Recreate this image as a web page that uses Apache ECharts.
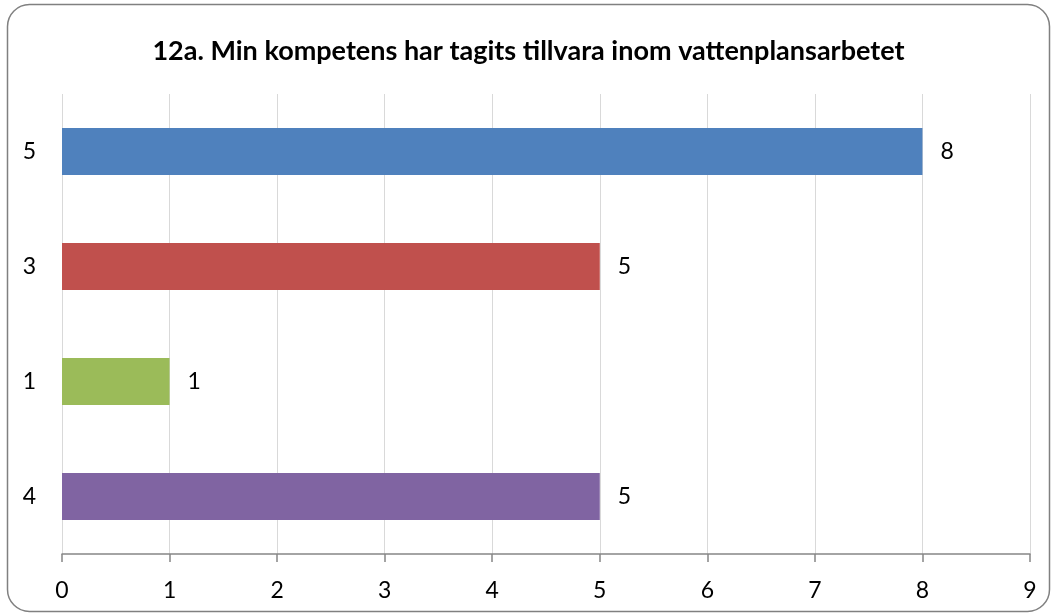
<!DOCTYPE html>
<html>
<head>
<meta charset="utf-8">
<script src="https://cdn.jsdelivr.net/npm/echarts@6/dist/echarts.min.js"></script>
<style>
html,body{margin:0;padding:0;background:#fff;}
#chart{width:1057px;height:616px;}
</style>
</head>
<body>
<div id="chart"></div>
<script>
var titleText = '12a. Min kompetens har tagits tillvara inom vattenplansarbetet';
var categories = ['5', '3', '1', '4'];
var values = [8, 5, 1, 5];
var barColors = ['#4F81BD', '#C0504D', '#9BBB59', '#8064A2'];

var chart = echarts.init(document.getElementById('chart'));
var seriesData = [];
for (var i = 0; i < values.length; i++) {
	seriesData.push({value: values[i], itemStyle: {color: barColors[i]}});
}
var option = {
	animation: false,
	title: {
		text: titleText,
		left: 'center',
		top: 33,
		textStyle: {fontFamily: 'Lato', fontWeight: 'bold', fontSize: 27, color: '#000'}
	},
	graphic: [{
		type: 'rect',
		shape: {x: 7.5, y: 4.5, width: 1042, height: 607, r: 22},
		style: {fill: 'none', stroke: '#808080', lineWidth: 1.5},
		silent: true
	}],
	grid: {left: 62, right: 27, top: 94, bottom: 62, containLabel: false},
	xAxis: {
		type: 'value',
		min: 0,
		max: 9,
		interval: 1,
		axisLine: {show: true, lineStyle: {color: '#868686', width: 1.5}},
		axisTick: {show: true, length: 8, lineStyle: {color: '#868686', width: 1.5}},
		axisLabel: {fontFamily: 'Lato', fontSize: 23, color: '#000', margin: 25},
		splitLine: {show: true, lineStyle: {color: '#d9d9d9', width: 1}}
	},
	yAxis: {
		type: 'category',
		inverse: true,
		data: categories,
		axisLine: {show: false},
		axisTick: {show: false},
		axisLabel: {fontFamily: 'Lato', fontSize: 23, color: '#000', margin: 26}
	},
	series: [{
		type: 'bar',
		barWidth: 47,
		data: seriesData,
		label: {
			show: true,
			position: 'right',
			distance: 18,
			fontFamily: 'Lato',
			fontSize: 23,
			color: '#000'
		}
	}]
};
chart.setOption(option);
</script>
</body>
</html>
